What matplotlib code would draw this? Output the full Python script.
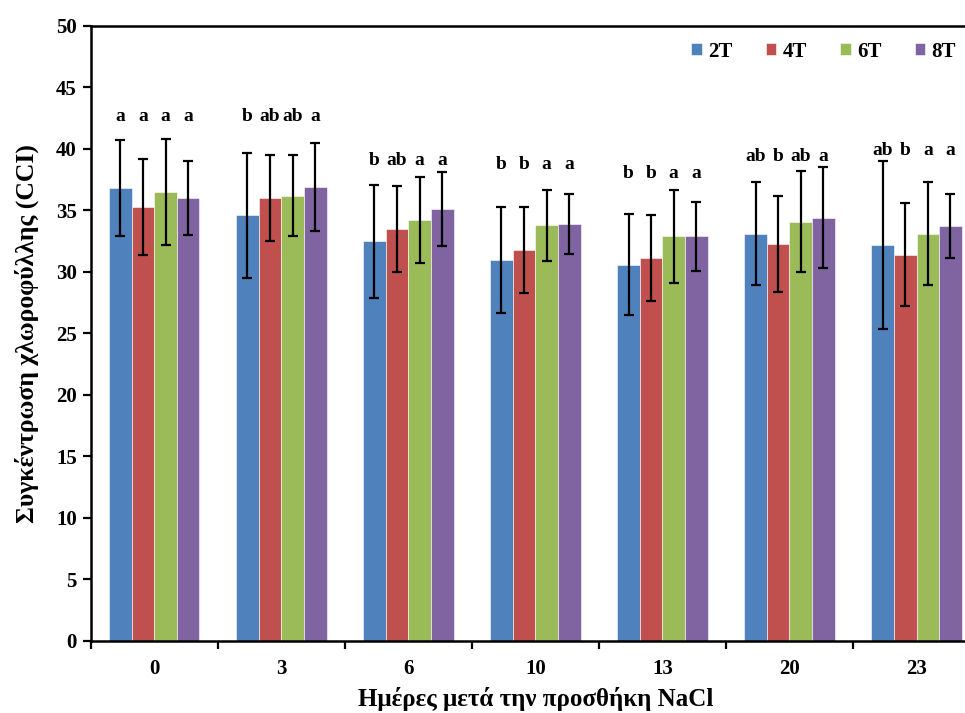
import matplotlib
matplotlib.use("Agg")
import matplotlib.pyplot as plt
import numpy as np

days = ["0", "3", "6", "10", "13", "20", "23"]
series = ["2T", "4T", "6T", "8T"]
colors = ["#4F81BD", "#C0504D", "#9BBB59", "#8064A2"]

means = {
    "2T": [36.8, 34.6, 32.5, 31.0, 30.6, 33.1, 32.2],
    "4T": [35.3, 36.0, 33.5, 31.8, 31.1, 32.3, 31.4],
    "6T": [36.5, 36.2, 34.2, 33.8, 32.9, 34.1, 33.1],
    "8T": [36.0, 36.9, 35.1, 33.9, 32.9, 34.4, 33.7],
}
errs = {
    "2T": [3.9, 5.1, 4.6, 4.3, 4.1, 4.2, 6.8],
    "4T": [3.9, 3.5, 3.5, 3.5, 3.5, 3.9, 4.2],
    "6T": [4.3, 3.3, 3.5, 2.9, 3.8, 4.1, 4.2],
    "8T": [3.0, 3.6, 3.0, 2.4, 2.8, 4.1, 2.6],
}
letters = {
    "2T": ["a", "b", "b", "b", "b", "ab", "ab"],
    "4T": ["a", "ab", "ab", "b", "b", "b", "b"],
    "6T": ["a", "ab", "a", "a", "a", "ab", "a"],
    "8T": ["a", "a", "a", "a", "a", "a", "a"],
}
letter_y = [42.6, 42.6, 39.1, 38.7, 38.0, 39.4, 39.9]

plt.rcParams["font.family"] = ["Liberation Serif", "DejaVu Serif"]
plt.rcParams["font.weight"] = "bold"

fig = plt.figure(figsize=(9.65, 7.13), dpi=100)
ax = fig.add_axes([0.094, 0.101, 0.9216, 0.8626])

x = np.arange(len(days))
w = 0.178
for i, s in enumerate(series):
    pos = x + (i - 1.5) * w
    ax.bar(pos, means[s], w, color=colors[i], edgecolor="white", linewidth=0.4,
           label=s, zorder=2)
    ax.errorbar(pos, means[s], yerr=errs[s], fmt="none", ecolor="black",
                elinewidth=1.6, capsize=3.5, capthick=1.6, zorder=3)
    for j, lab in enumerate(letters[s]):
        ax.text(pos[j], letter_y[j], lab, ha="center", va="center",
                fontsize=14, fontweight="bold")

ax.set_xlim(-0.5, len(days) - 0.5)
ax.set_ylim(0, 50)
ax.set_yticks(np.arange(0, 51, 5))
ax.set_xticks(x)
ax.set_xticklabels(days)
ax.set_xticks(np.arange(-0.5, len(days), 1), minor=True)
ax.tick_params(axis="x", which="major", length=0, pad=13, labelsize=15)
ax.tick_params(axis="x", which="minor", length=6, width=1.6, direction="out")
ax.tick_params(axis="y", length=6, width=1.6, direction="out", labelsize=15, pad=4)
for sp in ax.spines.values():
    sp.set_linewidth(1.8)

ax.set_ylabel("Συγκέντρωση χλωροφύλλης (CCI)", fontsize=18.5, fontweight="bold", labelpad=12)
ax.set_xlabel("Ημέρες μετά την προσθήκη NaCl", fontsize=18, fontweight="bold", labelpad=6)

leg = fig.legend(loc="upper right", bbox_to_anchor=(1.01, 0.968), ncol=4, frameon=False,
                 handlelength=0.5, handleheight=0.5, handletextpad=0.3, columnspacing=1.6,
                 prop={"size": 15, "weight": "bold"})

fig.savefig("out.png", dpi=100)
